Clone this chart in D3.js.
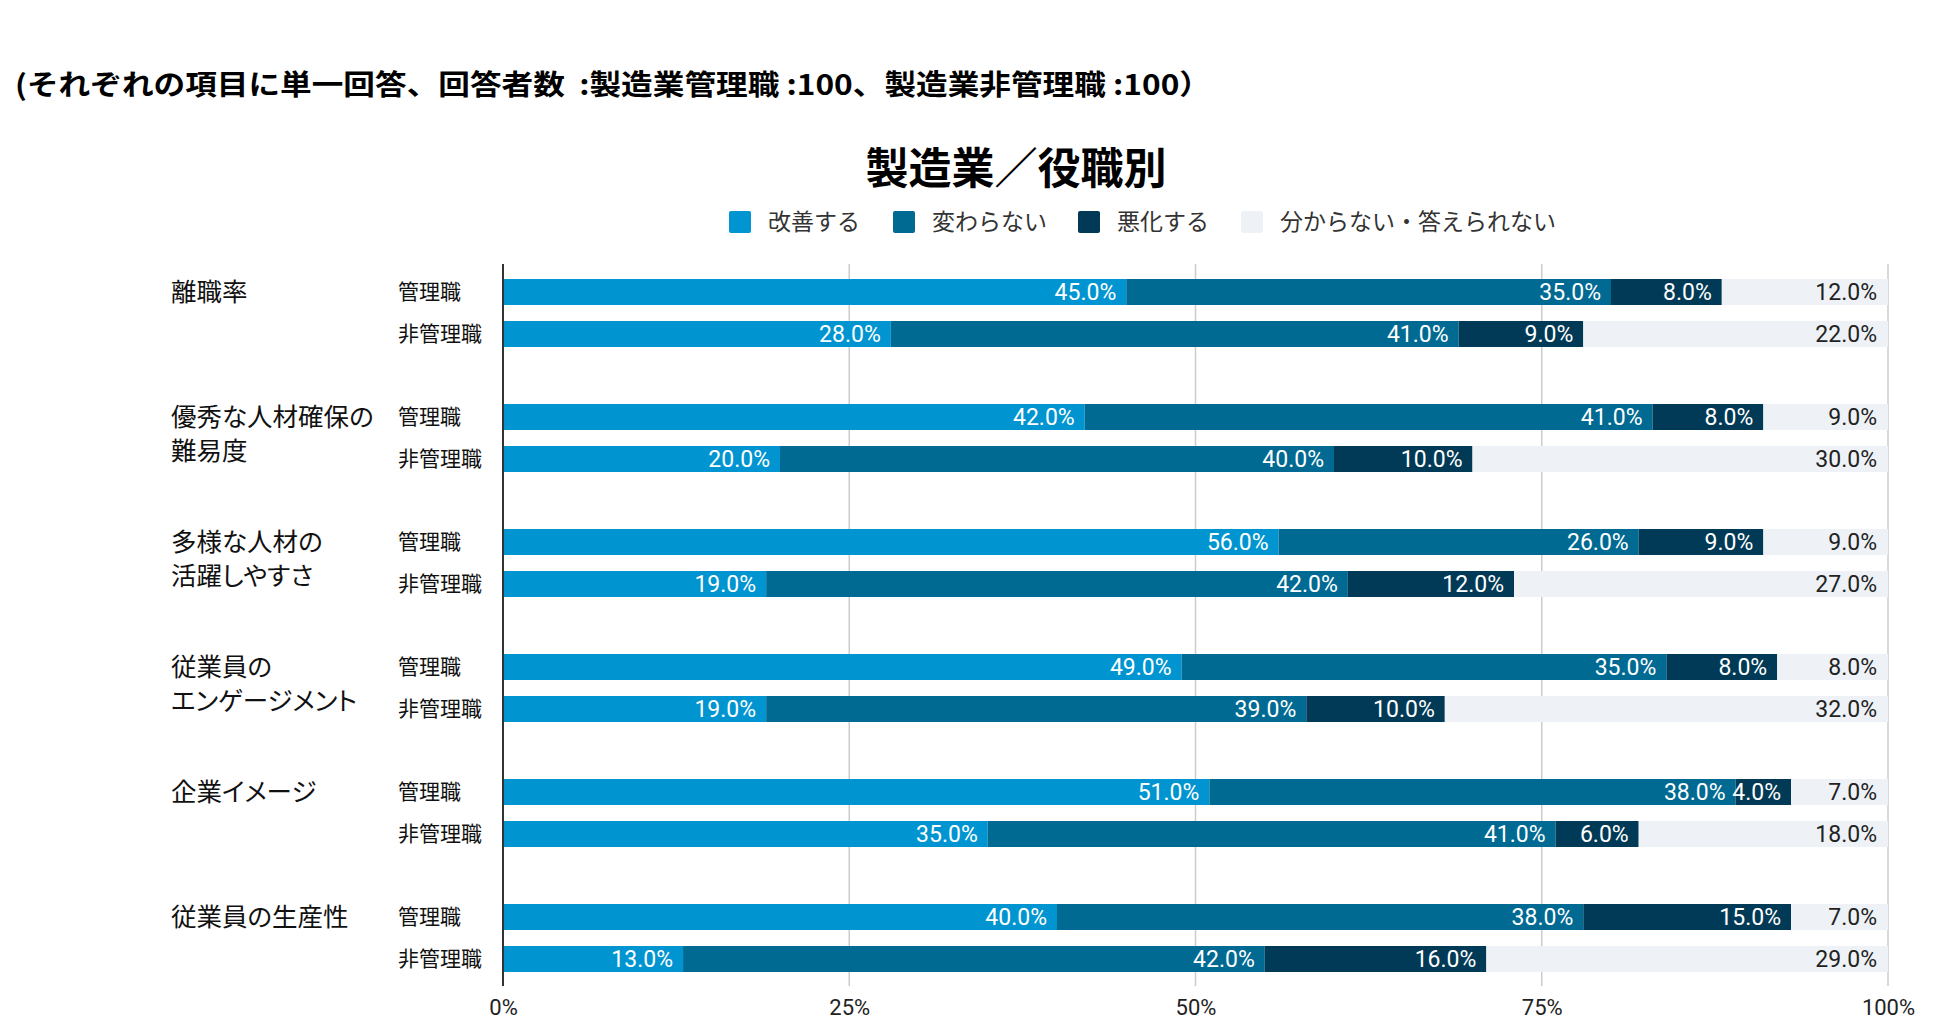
<!DOCTYPE html>
<html>
<head>
<meta charset="utf-8">
<script src="https://cdn.jsdelivr.net/npm/d3@7"></script>
<style>
  body { margin: 0; background: #fff; }
  text { font-family: Roboto, "Noto Sans CJK JP", sans-serif; }
  .cat { font-family: "Noto Sans CJK JP", sans-serif; font-feature-settings: "palt" 1; font-variant-east-asian: proportional-width; }
</style>
</head>
<body>
<svg id="chart" width="1950" height="1019"></svg>
<script>
// data
var categories = [
  ["離職率"],
  ["優秀な人材確保の", "難易度"],
  ["多様な人材の", "活躍しやすさ"],
  ["従業員の", "エンゲージメント"],
  ["企業イメージ"],
  ["従業員の生産性"]
];
var roles = ["管理職", "非管理職"];
var seriesNames = ["改善する", "変わらない", "悪化する", "分からない・答えられない"];
var colors = ["#0095d0", "#006a92", "#013a56", "#eef2f7"];
var ticks = [0, 25, 50, 75, 100];

// [管理職, 非管理職] per category, values per series
var improve   = [[45, 28], [42, 20], [56, 19], [49, 19], [51, 35], [40, 13]];
var unchanged = [[35, 41], [41, 40], [26, 42], [35, 39], [38, 41], [38, 42]];
var worse     = [[8, 9],   [8, 10],  [9, 12],  [8, 10],  [4, 6],   [15, 16]];
var unknown   = [[12, 22], [9, 30],  [9, 27],  [8, 32],  [7, 18],  [7, 29]];

var series = [improve, unchanged, worse, unknown];

var svg = d3.select("#chart");

var x = d3.scaleLinear().domain([0, 100]).range([503, 1888]);
var yGroup = d3.scaleBand().domain(d3.range(categories.length)).range([252, 1002]);
var yRole = d3.scaleBand().domain(roles).range([27, 95]).paddingInner(0.381);

// subtitle
svg.append("text")
  .attr("x", 15).attr("y", 85).attr("dy", "0.35em")
  .attr("textLength", 1196).attr("lengthAdjust", "spacingAndGlyphs")
  .style("font-family", '"Noto Sans CJK JP", sans-serif')
  .style("font-size", "28px").style("font-weight", "bold").style("fill", "#000")
  .text("(それぞれの項目に単一回答、回答者数\u00a0 :製造業管理職 :100、製造業非管理職 :100）");

// title
svg.append("text")
  .attr("x", 1016).attr("y", 169).attr("dy", "0.35em")
  .style("text-anchor", "middle")
  .style("font-family", '"Noto Sans CJK JP", sans-serif')
  .style("font-size", "43px").style("font-weight", "bold").style("fill", "#000")
  .text("製造業／役職別");

// legend
var legendX = [729, 893, 1078, 1241];
var legend = svg.selectAll(".legend").data(seriesNames).enter().append("g")
  .attr("class", "legend")
  .attr("transform", function(d, i) { return "translate(" + legendX[i] + ",222)"; });
legend.append("rect").attr("x", 0).attr("y", -11).attr("width", 22).attr("height", 22)
  .attr("rx", 2).style("fill", function(d, i) { return colors[i]; });
legend.append("text").attr("x", 39).attr("dy", "0.35em")
  .style("font-size", "23px").style("fill", "#333")
  .style("font-family", '"Noto Sans CJK JP", sans-serif')
  .text(function(d) { return d; });

// gridlines
svg.append("g").selectAll("line").data(ticks.slice(1)).enter().append("line")
  .attr("x1", function(d) { return x(d); }).attr("x2", function(d) { return x(d); })
  .attr("y1", 264).attr("y2", 986)
  .style("stroke", "#cccccc").style("stroke-width", 1.5);

// x axis labels
var xAxis = svg.append("g").attr("transform", "translate(0,986)")
  .call(d3.axisBottom(x).tickValues(ticks).tickSize(0).tickPadding(0)
    .tickFormat(function(d) { return d + "%"; }));
xAxis.select(".domain").remove();
xAxis.selectAll("text").attr("y", 21).attr("dy", "0.35em")
  .style("font-size", "22px").style("fill", "#222")
  .style("font-family", "Roboto, sans-serif");

// rows
var rows = [];
categories.forEach(function(c, ci) {
  roles.forEach(function(r, ri) {
    var x0 = 0;
    series.forEach(function(s, si) {
      var v = s[ci][ri];
      rows.push({ ci: ci, role: r, si: si, x0: x0, x1: x0 + v, v: v });
      x0 += v;
    });
  });
});

var barH = yRole.bandwidth();
function rowY(d) { return yGroup(d.ci) + yRole(d.role); }

svg.append("g").selectAll("rect").data(rows).enter().append("rect")
  .attr("x", function(d) { return x(d.x0); })
  .attr("width", function(d) { return x(d.x1) - x(d.x0); })
  .attr("y", rowY).attr("height", barH)
  .style("fill", function(d) { return colors[d.si]; });

svg.append("g").selectAll("text").data(rows).enter().append("text")
  .attr("x", function(d) { return x(d.x1) - (d.si === 3 ? 11 : 10); })
  .attr("y", function(d) { return rowY(d) + barH / 2; })
  .attr("dy", "0.35em")
  .style("text-anchor", "end")
  .style("font-size", "23px")
  .style("fill", function(d) { return d.si === 3 ? "#222" : "#fff"; })
  .text(function(d) { return d.v.toFixed(1) + "%"; });

// axis line
svg.append("line").attr("x1", x(0)).attr("x2", x(0)).attr("y1", 264).attr("y2", 986)
  .style("stroke", "#333").style("stroke-width", 2);

// role labels
var roleLabels = [];
categories.forEach(function(c, ci) {
  roles.forEach(function(r) { roleLabels.push({ ci: ci, role: r }); });
});
svg.append("g").selectAll("text").data(roleLabels).enter().append("text")
  .attr("x", 398)
  .attr("y", function(d) { return yGroup(d.ci) + yRole(d.role) + barH / 2; })
  .attr("dy", "0.35em")
  .style("font-family", '"Noto Sans CJK JP", sans-serif')
  .style("font-size", "21px").style("fill", "#111")
  .text(function(d) { return d.role; });

// category labels (tspans per line)
var catG = svg.append("g").selectAll("text").data(categories).enter().append("text")
  .attr("class", "cat")
  .attr("x", 171)
  .attr("y", function(d, i) { return yGroup(i) + yRole(roles[0]) + barH / 2; })
  .style("font-size", "25.5px").style("fill", "#111");
catG.selectAll("tspan").data(function(d) { return d; }).enter().append("tspan")
  .attr("x", 171)
  .attr("dy", function(d, i) { return i === 0 ? "0.35em" : "34px"; })
  .text(function(d) { return d; });
</script>
</body>
</html>
